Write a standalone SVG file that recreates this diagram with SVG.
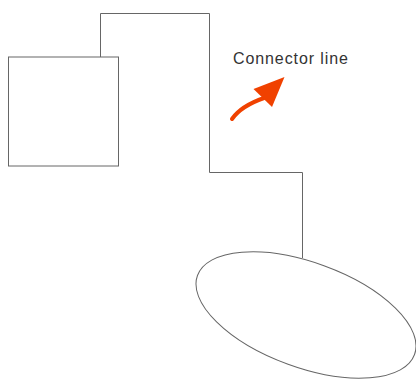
<svg xmlns="http://www.w3.org/2000/svg" width="416" height="381" viewBox="0 0 416 381">
<style>
.shape{fill:#ffffff;stroke:#666666;stroke-width:1}
.conn{fill:none;stroke:#666666;stroke-width:1}
.lbl{font-family:"Liberation Sans",Arial,sans-serif;font-size:16px;letter-spacing:0.9px;fill:#333333}
</style>
<rect width="416" height="381" fill="#ffffff"/>
<g id="connectors">
<path class="conn" d="M100.5,57 V13.5 H209.5 V172.5 H302.5 V258"/>
</g>
<g id="node-rect">
<rect class="shape" x="8.5" y="57" width="110" height="109"/>
</g>
<g id="node-ellipse">
<ellipse class="shape" cx="306" cy="315" rx="115.5" ry="52.5" transform="rotate(20 306 315)"/>
</g>
<g id="label">
<text class="lbl" x="233" y="64">Connector line</text>
</g>
<g id="arrow">
<path d="M232,119 Q241,106 264,98" fill="none" stroke="#f04100" stroke-width="4" stroke-linecap="round"/>
<polygon points="284.5,77 253.5,89 272,107" fill="#f04100"/>
</g>
</svg>
